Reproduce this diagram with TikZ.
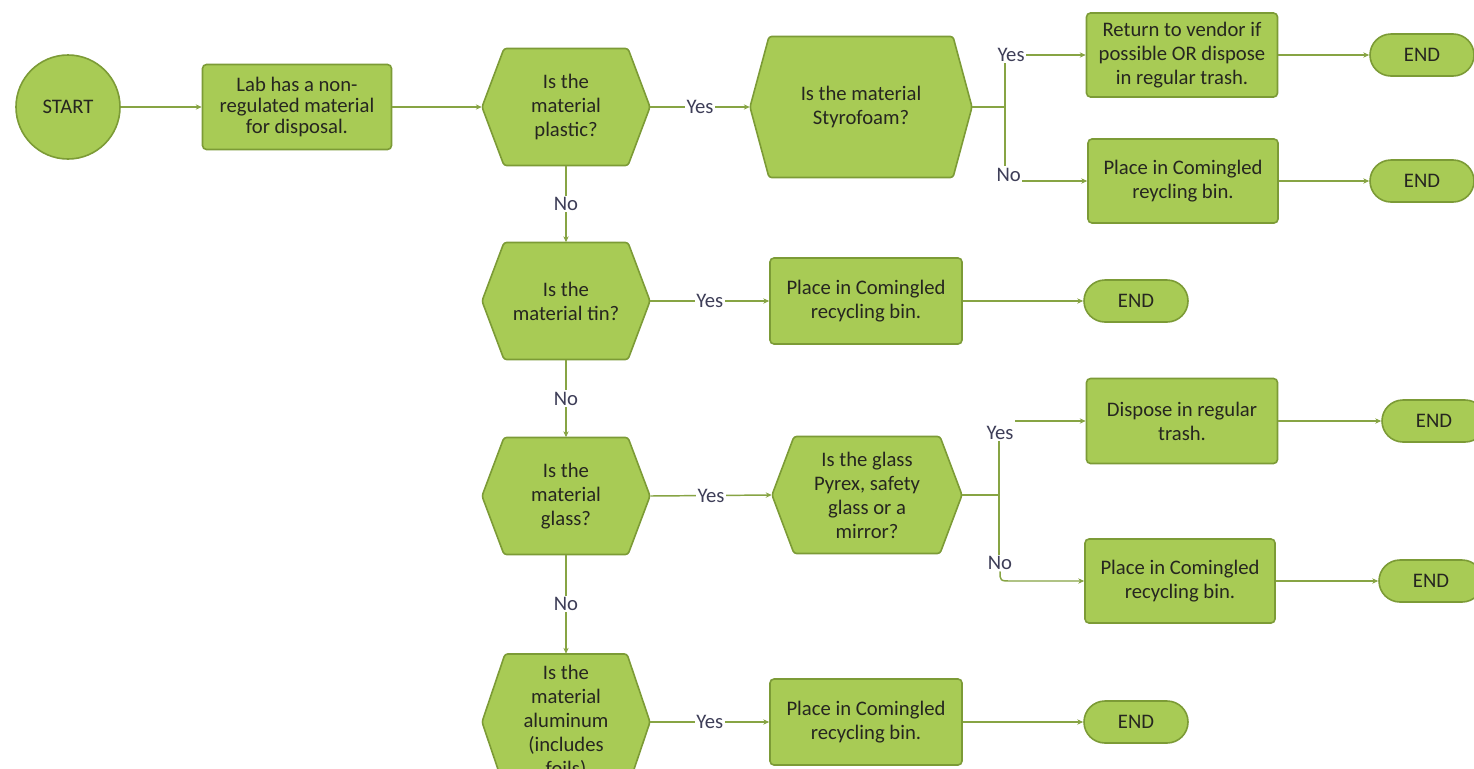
\documentclass[tikz,border=0pt]{standalone}
\usepackage{fontspec}
\setmainfont{Carlito}
\usetikzlibrary{shapes.misc,arrows.meta,calc}
\definecolor{fillg}{HTML}{A8CB55}
\definecolor{edgeg}{HTML}{7C9B36}
\definecolor{lineg}{HTML}{87A444}
\definecolor{txtc}{HTML}{262620}
\definecolor{lblc}{HTML}{3E3E58}
\newcommand\px[1]{#1*0.75pt}
% hexagon: name, x, y, w, h, inset
\newcommand\hexat[6]{%
  \path[hexshape] (#2-#4/2,#3) -- (#2-#4/2+#6,#3-#5/2) -- (#2+#4/2-#6,#3-#5/2) -- (#2+#4/2,#3) -- (#2+#4/2-#6,#3+#5/2) -- (#2-#4/2+#6,#3+#5/2) -- cycle;
  \node[hexbox, minimum width=\px{#4}, minimum height=\px{#5}] (#1) at (#2,#3)}
\begin{document}
\begin{tikzpicture}[x=0.75pt,y=-0.75pt,
  every node/.style={font=\fontsize{15.5}{18}\selectfont, text=txtc},
  hexshape/.style={fill=fillg, draw=edgeg, line width=1.2pt, rounded corners=2pt},
  hexbox/.style={draw=none, align=center, inner sep=0pt},
  proc/.style={draw=edgeg, fill=fillg, line width=1.2pt, rounded corners=3pt, align=center, inner sep=2pt},
  endbox/.style={rounded rectangle, draw=edgeg, fill=fillg, line width=1.2pt, minimum width=\px{104}, minimum height=\px{42}, inner sep=0pt},
  conn/.style={draw=lineg, line width=1.1pt},
  arr/.style={conn, -{Stealth[length=4.5pt,width=4pt]}},
  lab/.style={font=\fontsize{15.5}{18}\selectfont, text=lblc, fill=white, inner sep=1pt}
]
\useasboundingbox (0,0) rectangle (1474,768);
\fill[white] (0,0) rectangle (1474,768);
\clip (0,0) rectangle (1474,768);

% row 1
\node[circle, draw=edgeg, fill=fillg, line width=1.2pt, minimum size=\px{104}, inner sep=0pt] (start) at (68,107) {START};
\node[proc, minimum width=\px{189}, minimum height=\px{85}, font=\fontsize{15.5}{16}\selectfont] (box1) at (297,107) {Lab has a non-\\regulated material\\for disposal.};
\hexat{plastic}{566}{107}{168}{117}{22} {Is the\\material\\plastic?};
\hexat{styro}{861}{107}{222}{141}{19} {Is the material\\Styrofoam?};
\node[proc, minimum width=\px{191}, minimum height=\px{84}] (box2) at (1182,55) {Return to vendor if\\possible OR dispose\\in regular trash.};
\node[proc, minimum width=\px{190}, minimum height=\px{84}] (box3) at (1183,181) {Place in Comingled\\reycling bin.};
\node[endbox] (end1) at (1422,55) {END};
\node[endbox] (end2) at (1422,181) {END};

% row 2
\hexat{tin}{566}{301}{168}{117}{22} {Is the\\material tin?};
\node[proc, minimum width=\px{192}, minimum height=\px{86}] (box4) at (866,301) {Place in Comingled\\recycling bin.};
\node[endbox] (end3) at (1136,301) {END};

% row 3
\hexat{glass}{566}{496}{168}{117}{22} {Is the\\material\\glass?};
\hexat{pyrex}{867}{495}{190}{117}{22} {Is the glass\\Pyrex, safety\\glass or a\\mirror?};
\node[proc, minimum width=\px{191}, minimum height=\px{85}] (box5) at (1182,421) {Dispose in regular\\trash.};
\node[proc, minimum width=\px{190}, minimum height=\px{84}] (box6) at (1180,581) {Place in Comingled\\recycling bin.};
\node[endbox] (end4) at (1434,421) {END};
\node[endbox] (end5) at (1431,581) {END};

% row 4
\hexat{alu}{566}{722}{168}{136}{23} {Is the\\material\\aluminum\\(includes\\foils)};
\node[proc, minimum width=\px{192}, minimum height=\px{86}] (box7) at (866,722) {Place in Comingled\\recycling bin.};
\node[endbox] (end6) at (1136,722) {END};

% connectors row 1
\draw[arr] (start.east) -- (box1.west);
\draw[arr] (box1.east) -- (plastic.west);
\draw[arr] (plastic.east) -- node[lab]{Yes} (styro.west);
\coordinate (j1) at (1005,107);
\node[lab, anchor=west] (y1) at (996,55) {Yes};
\node[lab, anchor=base west, fill=none] (n1) at (995,181) {No};
\draw[conn] (styro.east) -- (j1);
\draw[conn] (j1 |- y1.south) -- (j1 |- n1.north);
\draw[arr] (y1.east) -- (box2.west);
\draw[arr] (n1.base east) -- (box3.west);
\draw[arr] (box2.east) -- (end1.west);
\draw[arr] (box3.east) -- (end2.west);

% vertical chain
\draw[arr] (plastic.south) -- node[lab]{No} (tin.north);
\draw[arr] (tin.south) -- node[lab]{No} (glass.north);
\draw[arr] (glass.south) -- node[lab]{No} (alu.north);

% row 2
\draw[arr] (tin.east) -- node[lab]{Yes} (box4.west);
\draw[arr] (box4.east) -- (end3.west);

% row 3
\draw[arr] (glass.east) -- node[lab]{Yes} (pyrex.west);
\coordinate (j2) at (999,495);
\node[lab] (y2) at (1000,433) {Yes};
\node[lab] (n2) at (1000,563) {No};
\draw[conn] (pyrex.east) -- (j2);
\draw[conn] (j2 |- y2.south) -- (j2 |- n2.north);
\draw[arr] (y2.north east |- box5.west) -- (box5.west);
\draw[arr] (n2.south) .. controls (n2.south |- box6.west) .. ($(n2.south |- box6.west)+(12,0)$) -- (box6.west);
\draw[arr] (box5.east) -- (end4.west);
\draw[arr] (box6.east) -- (end5.west);

% row 4
\draw[arr] (alu.east) -- node[lab]{Yes} (box7.west);
\draw[arr] (box7.east) -- (end6.west);
\end{tikzpicture}
\end{document}
